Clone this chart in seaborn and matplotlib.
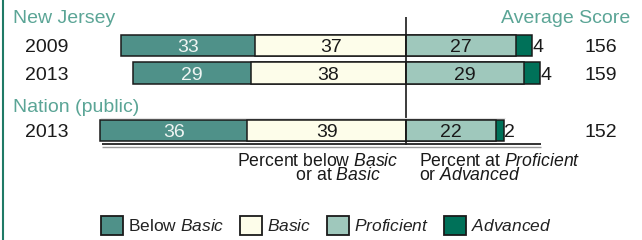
import pandas as pd
import seaborn as sns
import matplotlib.pyplot as plt
from matplotlib.patches import Patch
from matplotlib.lines import Line2D

# data
years = ["2009", "2013", "2013"]
below_basic = [33, 29, 36]
basic = [37, 38, 39]
proficient = [27, 29, 22]
advanced = [4, 4, 2]
avg_score = [156, 159, 152]

# layout (pixels of a 642x240 canvas)
W, H = 642, 240
row_y = [45.5, 73, 130.7]
zero_px = 406
unit_px = 4.075

c_below = "#4f9189"
c_basic = "#fdfdea"
c_prof = "#9fc8bc"
c_adv = "#007159"
c_head = "#5ba596"
c_text = "#1a1a1a"
c_edge = "#1a1a1a"

sns.set_style("white")
plt.rcParams["font.family"] = ["Liberation Sans", "DejaVu Sans"]
plt.rcParams["mathtext.fontset"] = "custom"
plt.rcParams["mathtext.rm"] = "Liberation Sans"
plt.rcParams["mathtext.it"] = "Liberation Sans:italic"


def px2x(p):
    return (p - zero_px) / unit_px


df = pd.DataFrame({
    "year": years,
    "below_basic": below_basic,
    "basic": basic,
    "proficient": proficient,
    "advanced": advanced,
    "score": avg_score,
})
df["y"] = row_y
df["left_total"] = -(df["below_basic"] + df["basic"])
df["left_basic"] = -df["basic"]
df["right_total"] = df["proficient"] + df["advanced"]
df["right_prof"] = df["proficient"]

fig = plt.figure(figsize=(W / 100, H / 100), dpi=100)
ax = fig.add_axes([0, 0, 1, 1])

layers = [("left_total", c_below), ("left_basic", c_basic),
          ("right_total", c_adv), ("right_prof", c_prof)]
for col, color in layers:
    sns.barplot(data=df, x=col, y="y", orient="h", native_scale=True,
                width=0.764, color=color, saturation=1, edgecolor=c_edge,
                linewidth=1.1, errorbar=None, ax=ax)

ax.set_xlim(px2x(0), px2x(W))
ax.set_ylim(H, 0)
ax.axis("off")

# segment labels
for i, r in df.iterrows():
    y = r["y"]
    ax.text(-(r["basic"] + r["below_basic"] / 2), y, str(r["below_basic"]),
            ha="center", va="center_baseline", fontsize=14, color="#eef4f2")
    ax.text(-r["basic"] / 2, y, str(r["basic"]),
            ha="center", va="center_baseline", fontsize=14, color=c_text)
    ax.text(r["proficient"] / 2, y, str(r["proficient"]),
            ha="center", va="center_baseline", fontsize=14, color=c_text)
    ax.text(r["right_total"] + 0.1, y, str(r["advanced"]),
            ha="left", va="center_baseline", fontsize=14, color=c_text)
    ax.text(px2x(25), y, r["year"],
            ha="left", va="center_baseline", fontsize=14, color=c_text)
    ax.text(px2x(601), y, str(r["score"]),
            ha="center", va="center_baseline", fontsize=14, color=c_text)

# center line and rules
ax.vlines(0, 17, 145, color=c_edge, lw=1.2)
ax.hlines(144, px2x(102), px2x(541), color="#222222", lw=1.3)
ax.hlines(147.2, px2x(102), px2x(541), color="#9a9a9a", lw=1.0)
ax.hlines(118, px2x(100), px2x(505), color="#e2e2e2", lw=0.8)


# headers
def ftext(x, y, s, **kw):
    fig.text(x / W, 1 - y / H, s, **kw)


ftext(13, 23, "New Jersey", fontsize=14, color=c_head, va="baseline")
ftext(13, 111.5, "Nation (public)", fontsize=14, color=c_head, va="baseline")
ftext(630, 23, "Average Score", fontsize=14, color=c_head, va="baseline", ha="right")

# two-line captions (va="baseline" anchors the last line)
ftext(237, 180, "Percent below $\\it{Basic}$\n            or at $\\it{Basic}$",
      fontsize=12.7, color=c_text, va="baseline", linespacing=0.78)
ftext(419, 180, "Percent at $\\it{Proficient}$\nor $\\it{Advanced}$",
      fontsize=12.7, color=c_text, va="baseline", linespacing=0.78)

# left border
fig.add_artist(Line2D([2.5 / W, 2.5 / W], [0, 1], color="#1f7a66", lw=1.5,
                      transform=fig.transFigure))

# legend
handles = [Patch(facecolor=c, edgecolor=c_edge, linewidth=1.3)
           for c in [c_below, c_basic, c_prof, c_adv]]
labels = [r"Below $\it{Basic}$", r"$\it{Basic}$", r"$\it{Proficient}$", r"$\it{Advanced}$"]
fig.legend(handles, labels, ncol=4, loc="upper left",
           bbox_to_anchor=(101 / W, 1 - 216 / H), frameon=False, fontsize=12.5,
           handlelength=1.25, handleheight=1.3, handletextpad=0.3,
           columnspacing=0.9, borderpad=0, borderaxespad=0,
           labelcolor="#222222")

fig.savefig("out.png", dpi=100)
